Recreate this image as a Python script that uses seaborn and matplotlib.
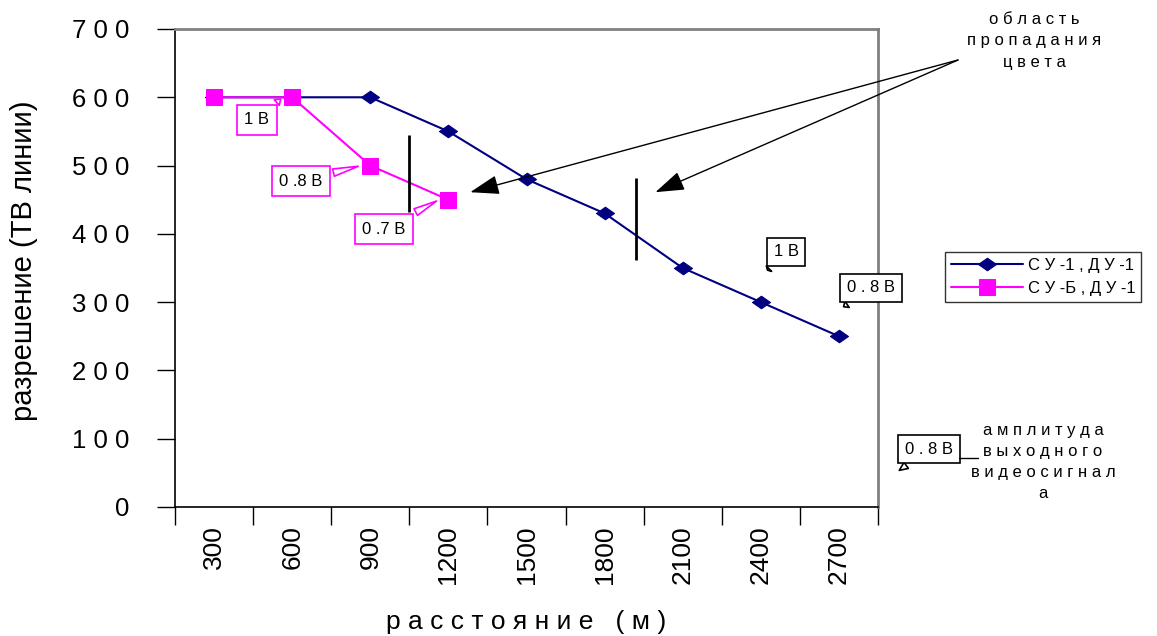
import numpy as np
import pandas as pd
import matplotlib
matplotlib.use("Agg")
import matplotlib.pyplot as plt
import seaborn as sns

# data
distances = [300, 600, 900, 1200, 1500, 1800, 2100, 2400, 2700]
su1_du1 = [600, 600, 600, 550, 480, 430, 350, 300, 250]
sub_du1 = [600, 600, 500, 450, np.nan, np.nan, np.nan, np.nan, np.nan]
series_names = ["С У -1 , Д У -1", "С У -Б , Д У -1"]
y_ticks = [0, 100, 200, 300, 400, 500, 600, 700]

BLUE = "#000080"
PINK = "#FF00FF"
W, H = 1157, 636


def spaced(s, sep=" "):
    return sep.join(s)


def fpx(x, y):
    # reference pixel (top-left origin) -> figure pixels
    return (x, H - y)


pos = list(range(len(distances)))
df = pd.DataFrame({
    "pos": pos * 2,
    "value": su1_du1 + sub_du1,
    "series": [series_names[0]] * len(pos) + [series_names[1]] * len(pos),
}).dropna()

sns.set_style("white")
plt.rcParams["font.family"] = ["Liberation Sans", "DejaVu Sans"]
plt.rcParams.update({"text.color": "black", "axes.labelcolor": "black",
                     "xtick.color": "black", "ytick.color": "black"})

fig = plt.figure(figsize=(W / 100, H / 100), dpi=100)
ax = fig.add_axes([175 / W, 1 - 507 / H, (878 - 175) / W, (507 - 29) / H])

diamond = [(-1, 0), (0, 0.7), (1, 0), (0, -0.7), (-1, 0)]
sns.lineplot(data=df[df.series == series_names[0]], x="pos", y="value",
             color=BLUE, marker=diamond, markersize=13, markeredgecolor=BLUE,
             linewidth=1.5, ax=ax, label=series_names[0])
sns.lineplot(data=df[df.series == series_names[1]], x="pos", y="value",
             color=PINK, marker="s", markersize=11, markeredgecolor=PINK,
             linewidth=1.5, ax=ax, label=series_names[1])

ax.set_xlim(-0.5, len(distances) - 0.5)
ax.set_ylim(0, 700)
ax.set_xticks(np.arange(len(distances) + 1) - 0.5)
ax.set_xticklabels([])
ax.set_xticks(pos, minor=True)
ax.set_xticklabels([str(d) for d in distances], minor=True, rotation=90, fontsize=19)
ax.tick_params(axis="x", which="major", bottom=True, direction="out", length=13,
               width=1, color="black")
ax.tick_params(axis="x", which="minor", bottom=True, length=0, pad=13)
ax.set_yticks(y_ticks)
ax.set_yticklabels([spaced(str(v)) for v in y_ticks], fontsize=18.5)
ax.tick_params(axis="y", left=True, direction="out", length=13, width=1,
               color="black", pad=20)

for side in ["left", "bottom"]:
    ax.spines[side].set_color("black")
    ax.spines[side].set_linewidth(1.2)
for side in ["top", "right"]:
    ax.spines[side].set_color("#808080")
    ax.spines[side].set_linewidth(2)

ax.set_xlabel(spaced("расстояние") + "   " + spaced("(м)"), fontsize=19)
ax.set_ylabel("разрешение (ТВ линии)", fontsize=21)
ax.xaxis.set_label_coords(0.5, -0.216)
ax.yaxis.set_label_coords(-0.195, 0.515)

# vertical marker lines
ax.vlines([2.5], 432, 545, color="black", linewidth=2)
ax.vlines([5.4], 362, 482, color="black", linewidth=2)

wedge = "wedge,tail_width=0.45"

# pink callouts
pink_notes = [("1 В", 1, 600, (257, 120)), ("0 .8 В", 2, 500, (301, 181)),
              ("0 .7 В", 3, 450, (384, 229))]
for txt, i, v, (bx, by) in pink_notes:
    ax.annotate(txt, xy=(pos[i] - 0.12, v), xytext=fpx(bx, by),
                textcoords="figure pixels", ha="center", va="center", fontsize=12,
                bbox=dict(boxstyle="square,pad=0.45", fc="white", ec=PINK, lw=1.2),
                arrowprops=dict(arrowstyle=wedge, fc="white", ec=PINK, lw=1.2))

# black callouts
black_notes = [("1 В", (7.06, 344), "data", (786, 252)),
               ("0 . 8 В", (8.03, 291), "data", (871, 288)),
               ("0 . 8 В", fpx(897, 472), "figure pixels", (929, 449))]
for txt, tip, coords, (bx, by) in black_notes:
    ax.annotate(txt, xy=tip, xycoords=coords, xytext=fpx(bx, by),
                textcoords="figure pixels", ha="center", va="center", fontsize=12,
                bbox=dict(boxstyle="square,pad=0.4", fc="white", ec="black", lw=1.2),
                arrowprops=dict(arrowstyle=wedge, fc="white", ec="black", lw=1.2),
                annotation_clip=False)
fig.add_artist(plt.Line2D([959 / W, 978 / W], [1 - 458 / H, 1 - 458 / H],
                          color="black", lw=1, transform=fig.transFigure))

fig.text(1043 / W, 1 - 462 / H,
         "\n".join([spaced("амплитуда"), spaced("выходного"), spaced("видеосигнал"), "а"]),
         ha="center", va="center", fontsize=12, linespacing=1.5)

# color loss region label and arrows
fig.text(1034 / W, 1 - 41 / H,
         "\n".join([spaced("область"), spaced("пропадания"), spaced("цвета")]),
         ha="center", va="center", fontsize=12, linespacing=1.5)
for tip in [(3.28, 461), (5.65, 461)]:
    ax.annotate("", xy=tip, xytext=fpx(958, 60), textcoords="figure pixels",
                arrowprops=dict(arrowstyle="-|>,head_length=1.2,head_width=0.4",
                                mutation_scale=15, color="black", lw=1, shrinkA=0, shrinkB=0),
                annotation_clip=False)

# legend outside the axes
leg = ax.legend(loc="center", bbox_to_anchor=(1043 / W, 1 - 277 / H),
                bbox_transform=fig.transFigure, fontsize=12, frameon=True,
                fancybox=False, edgecolor="black", handlelength=4.3, borderpad=0.35,
                labelspacing=0.45, handletextpad=0.3)
leg.get_frame().set_linewidth(1)

fig.savefig("out.png", dpi=100)
